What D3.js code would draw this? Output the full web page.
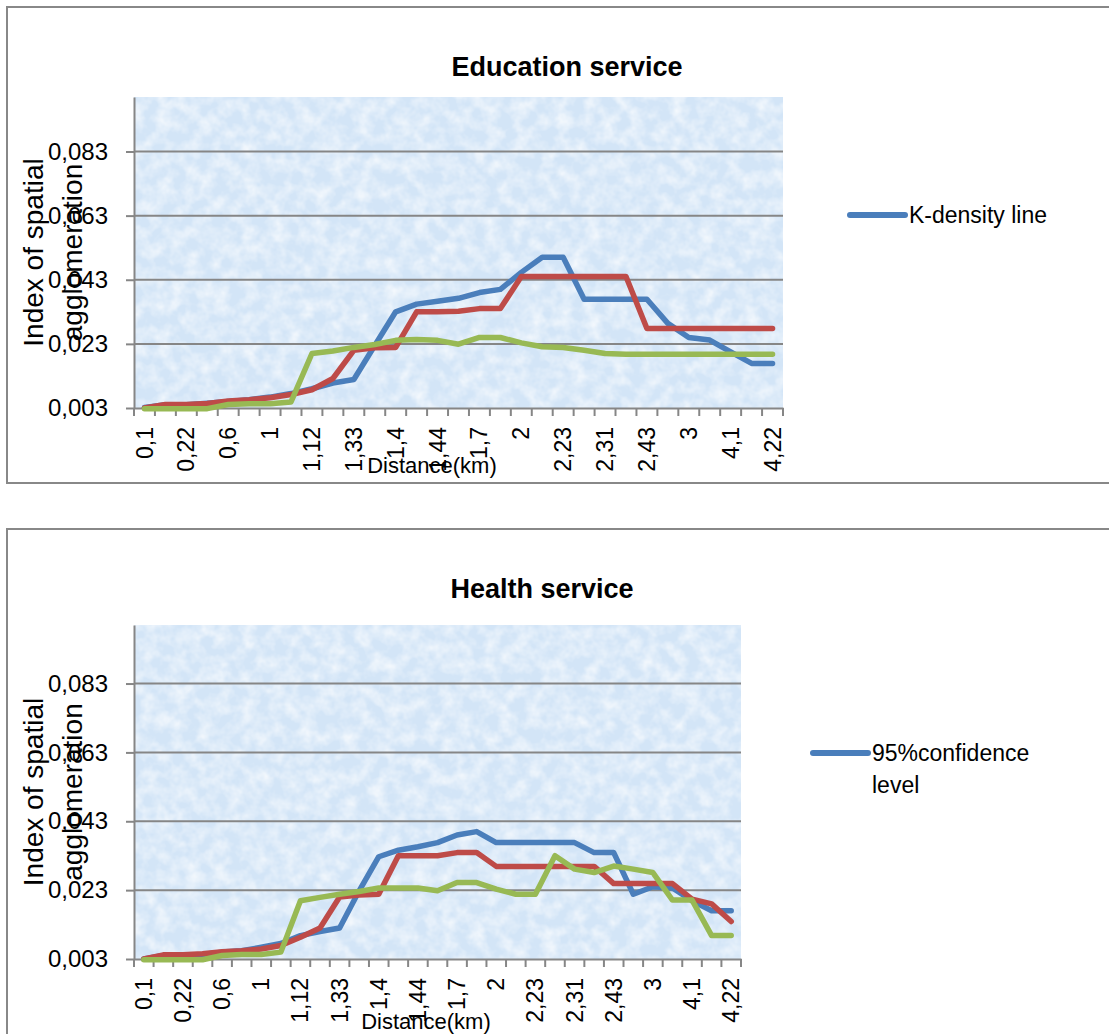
<!DOCTYPE html>
<html>
<head>
<meta charset="utf-8">
<script src="https://cdn.jsdelivr.net/npm/d3@7"></script>
<style>
  body { margin: 0; background: #fff; }
  svg text { font-family: "Liberation Sans", Arial, sans-serif; fill: #000; }
</style>
</head>
<body>
<div id="chart"></div>
<script>
// Distance categories (only every second one is labelled on the axis)
const distanceKm = ["0,1", "0,16", "0,22", "0,4", "0,6", "0,8", "1", "1,08", "1,12", "1,2",
    "1,33", "1,36", "1,4", "1,42", "1,44", "1,6", "1,7", "1,8", "2", "2,2",
    "2,23", "2,3", "2,31", "2,4", "2,43", "2,5", "3", "4", "4,1", "4,2", "4,22"];

const yTicks = [0.003, 0.023, 0.043, 0.063, 0.083];
const yDomain = [0.003, 0.1];

// Education service
const eduBlue = [0.0032, 0.004, 0.004, 0.0045, 0.005, 0.0056, 0.0064, 0.0075, 0.009, 0.0108,
    0.0119, 0.0225, 0.033, 0.0354, 0.0363, 0.0372, 0.039, 0.040, 0.0453, 0.050,
    0.050, 0.0369, 0.0369, 0.0369, 0.0369, 0.0294, 0.025, 0.0242, 0.0205, 0.0169, 0.0169];
const eduRed = [0.003, 0.0041, 0.0041, 0.0044, 0.0052, 0.0056, 0.0062, 0.0072, 0.0087, 0.0122,
    0.021, 0.0218, 0.0219, 0.033, 0.033, 0.0332, 0.034, 0.034, 0.044, 0.044,
    0.044, 0.044, 0.044, 0.044, 0.0278, 0.0278, 0.0278, 0.0278, 0.0278, 0.0278, 0.0278];
const eduGreen = [0.0028, 0.0028, 0.0028, 0.0028, 0.0041, 0.0043, 0.0043, 0.0049, 0.020, 0.0208,
    0.0219, 0.0228, 0.0241, 0.0244, 0.0241, 0.0229, 0.025, 0.025, 0.0233, 0.0221,
    0.0219, 0.021, 0.020, 0.0198, 0.0198, 0.0198, 0.0198, 0.0198, 0.0198, 0.0198, 0.0198];

// Health service
const healthBlue = [0.003, 0.004, 0.004, 0.0043, 0.005, 0.0054, 0.0064, 0.0075, 0.0098, 0.011,
    0.012, 0.0228, 0.0327, 0.0346, 0.0356, 0.0368, 0.039, 0.040, 0.0368, 0.0368,
    0.0368, 0.0368, 0.0368, 0.0339, 0.0339, 0.0218, 0.024, 0.0236, 0.0199, 0.017, 0.017];
const healthRed = [0.003, 0.0042, 0.0042, 0.0045, 0.0051, 0.0054, 0.0059, 0.0069, 0.0093, 0.012,
    0.021, 0.0216, 0.0218, 0.033, 0.033, 0.033, 0.0339, 0.0339, 0.0299, 0.0299,
    0.0299, 0.0299, 0.0299, 0.0299, 0.0249, 0.0249, 0.0249, 0.0249, 0.0204, 0.019, 0.0139];
const healthGreen = [0.0028, 0.0028, 0.0028, 0.0028, 0.004, 0.0043, 0.0043, 0.005, 0.0199, 0.0209,
    0.0218, 0.0226, 0.0236, 0.0236, 0.0236, 0.0228, 0.0252, 0.0252, 0.0233, 0.0218,
    0.0218, 0.033, 0.0291, 0.0281, 0.030, 0.0291, 0.0281, 0.0201, 0.0201, 0.0098, 0.0098];

const seriesColors = ["#4a7ebb", "#be4b48", "#98b954"];

const width = 1109;
const height = 1034;

const svg = d3.select("#chart").append("svg")
    .attr("width", width)
    .attr("height", height);

// tissue-paper like texture for the plot area
const defs = svg.append("defs");
const filter = defs.append("filter")
    .attr("id", "tissue")
    .attr("x", 0).attr("y", 0).attr("width", "100%").attr("height", "100%");
filter.append("feTurbulence")
    .attr("type", "fractalNoise")
    .attr("baseFrequency", "0.07")
    .attr("numOctaves", 3)
    .attr("seed", 7);
filter.append("feColorMatrix")
    .attr("type", "matrix")
    .attr("values", "0 0 0 0 1  0 0 0 0 1  0 0 0 0 1  1.3 0 0 0 -0.45");

const fmt = d => d3.format(".3f")(d).replace(".", ",");

function drawChart(opt) {
    const [x0, y0, x1, y1] = opt.plot;
    const g = svg.append("g");

    // chart frame
    g.append("rect")
        .attr("x", 7).attr("y", opt.frameY)
        .attr("width", 1130).attr("height", opt.frameH)
        .attr("fill", "#fff")
        .attr("stroke", "#888")
        .attr("stroke-width", 2);

    const x = d3.scaleBand().domain(distanceKm).range([x0, x1]);
    const y = d3.scaleLinear().domain(yDomain).range([y1, y0]);

    // plot area
    g.append("rect")
        .attr("x", x0).attr("y", y0)
        .attr("width", x1 - x0).attr("height", y1 - y0)
        .attr("fill", "#d3e5f7");
    g.append("rect")
        .attr("x", x0).attr("y", y0)
        .attr("width", x1 - x0).attr("height", y1 - y0)
        .attr("fill", "#fff")
        .attr("filter", "url(#tissue)");

    // gridlines
    g.selectAll(".grid")
        .data(yTicks.slice(1))
        .join("line")
        .attr("x1", x0).attr("x2", x1)
        .attr("y1", d => y(d)).attr("y2", d => y(d))
        .attr("stroke", "#868686")
        .attr("stroke-width", 2);

    // y axis
    const yAxis = g.append("g")
        .attr("transform", `translate(${x0},0)`)
        .call(d3.axisLeft(y).tickValues(yTicks).tickSize(8).tickSizeOuter(0)
            .tickPadding(18).tickFormat(fmt));
    yAxis.selectAll("line, path").attr("stroke", "#868686").attr("stroke-width", 2);
    yAxis.selectAll("text").style("font-size", "24px");

    // x axis
    const labelled = distanceKm.filter((d, i) => i % 2 === 0);
    const xAxis = g.append("g")
        .attr("transform", `translate(0,${y1})`)
        .call(d3.axisBottom(x).tickValues(labelled).tickSize(0).tickSizeOuter(0));
    xAxis.select(".domain").attr("stroke", "#868686").attr("stroke-width", 2);
    xAxis.selectAll("text")
        .attr("transform", "rotate(-90)")
        .attr("x", -19)
        .attr("y", 0)
        .attr("dy", "0.35em")
        .style("text-anchor", "end")
        .style("font-size", "23px");

    // tick marks between categories
    const bounds = distanceKm.map(d => x(d)).concat([x1]);
    g.selectAll(".xtick")
        .data(bounds)
        .join("line")
        .attr("x1", d => d).attr("x2", d => d)
        .attr("y1", y1).attr("y2", y1 + 8)
        .attr("stroke", "#868686")
        .attr("stroke-width", 2);

    // series lines
    const line = d3.line()
        .x((d, i) => x(distanceKm[i]) + x.bandwidth() / 2)
        .y(d => y(d));
    opt.series.forEach((s, k) => {
        g.append("path")
            .datum(s)
            .attr("d", line)
            .attr("fill", "none")
            .attr("stroke", seriesColors[k])
            .attr("stroke-width", 5.5)
            .attr("stroke-linejoin", "round")
            .attr("stroke-linecap", "round");
    });

    // chart title
    g.append("text")
        .attr("x", opt.titleX).attr("y", opt.titleY)
        .attr("text-anchor", "middle")
        .style("font-size", "27px")
        .style("font-weight", "bold")
        .text(opt.title);

    // y axis title (two lines)
    const cy = (y0 + y1) / 2;
    ["Index of spatial", "agglomeration"].forEach((t, i) => {
        g.append("text")
            .attr("transform", `translate(${i === 0 ? 33 : 72},${cy}) rotate(-90)`)
            .attr("dy", "0.35em")
            .attr("text-anchor", "middle")
            .style("font-size", "28px")
            .text(t);
    });

    // x axis title
    g.append("text")
        .attr("x", opt.xTitleX).attr("y", opt.xTitleY)
        .attr("text-anchor", "middle")
        .style("font-size", "22px")
        .text("Distance(km)");

    // legend (single entry, as in the source)
    const lg = g.append("g").attr("transform", `translate(${opt.legendX},${opt.legendY})`);
    lg.append("line")
        .attr("x1", 0).attr("x2", 55)
        .attr("y1", 0).attr("y2", 0)
        .attr("stroke", seriesColors[0])
        .attr("stroke-width", 6)
        .attr("stroke-linecap", "round");
    opt.legend.forEach((t, i) => {
        lg.append("text")
            .attr("x", 59).attr("y", i * 32)
            .attr("dy", "0.35em")
            .style("font-size", "23px")
            .text(t);
    });
}

drawChart({
    frameY: 7, frameH: 476,
    plot: [134, 97, 783, 408],
    title: "Education service", titleX: 567, titleY: 76,
    xTitleX: 432, xTitleY: 473,
    legend: ["K-density line"], legendX: 850, legendY: 215,
    series: [eduBlue, eduRed, eduGreen]
});

drawChart({
    frameY: 529, frameH: 600,
    plot: [134, 625, 741, 959],
    title: "Health service", titleX: 542, titleY: 598,
    xTitleX: 426, xTitleY: 1029,
    legend: ["95%confidence", "level"], legendX: 813, legendY: 753,
    series: [healthBlue, healthRed, healthGreen]
});
</script>
</body>
</html>
